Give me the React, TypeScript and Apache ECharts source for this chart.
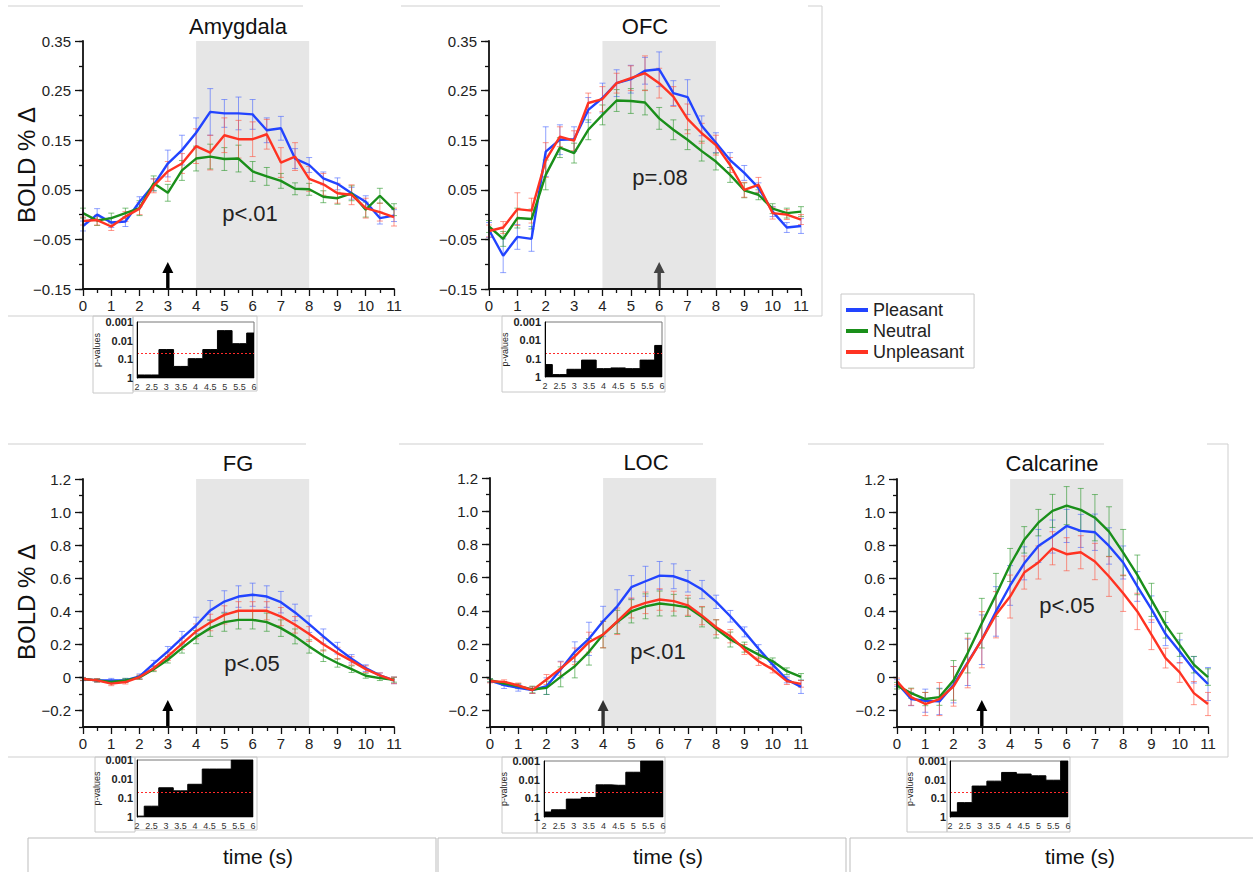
import React, { useEffect, useRef } from "react";
import * as echarts from "echarts";

// ---------- data ----------
const TIME = [0, 0.5, 1, 1.5, 2, 2.5, 3, 3.5, 4, 4.5, 5, 5.5, 6, 6.5, 7, 7.5, 8, 8.5, 9, 9.5, 10, 10.5, 11];
const P_TIME = [2, 2.5, 3, 3.5, 4, 4.5, 5, 5.5, 6];
const CONDITIONS = ["Pleasant", "Neutral", "Unpleasant"];
const STIM_WINDOW = [4, 8];
const P_THRESHOLD = 0.05;
const TITLES = ["Amygdala", "OFC", "FG", "LOC", "Calcarine"];
const P_LABELS = ["p<.01", "p=.08", "p<.05", "p<.01", "p<.05"];
const ARROW_TIMES = [3, 6, 3, 4, 3];

// Amygdala
const amyPleasant = [-0.023, 0.0, -0.016, -0.014, 0.026, 0.06, 0.103, 0.13, 0.165, 0.207, 0.204, 0.204, 0.202, 0.17, 0.174, 0.113, 0.1, 0.073, 0.062, 0.043, 0.026, -0.007, -0.002];
const amyNeutral = [0.003, -0.012, -0.007, 0.003, 0.013, 0.063, 0.044, 0.089, 0.113, 0.117, 0.112, 0.113, 0.087, 0.077, 0.068, 0.052, 0.051, 0.036, 0.033, 0.043, 0.01, 0.038, 0.01];
const amyUnpleasant = [-0.013, -0.011, -0.024, -0.004, 0.012, 0.058, 0.087, 0.103, 0.138, 0.125, 0.16, 0.152, 0.152, 0.162, 0.105, 0.117, 0.072, 0.061, 0.043, 0.04, 0.013, 0.005, -0.005];
const amyPleasantErr = [0.01, 0.012, 0.01, 0.01, 0.01, 0.012, 0.027, 0.03, 0.03, 0.047, 0.028, 0.033, 0.03, 0.025, 0.024, 0.02, 0.015, 0.013, 0.012, 0.012, 0.012, 0.012, 0.012];
const amyNeutralErr = [0.01, 0.01, 0.01, 0.01, 0.015, 0.015, 0.017, 0.02, 0.025, 0.025, 0.023, 0.027, 0.02, 0.018, 0.015, 0.012, 0.012, 0.012, 0.012, 0.015, 0.015, 0.015, 0.012];
const amyUnpleasantErr = [0.008, 0.01, 0.008, 0.01, 0.012, 0.014, 0.02, 0.02, 0.035, 0.035, 0.035, 0.038, 0.035, 0.03, 0.03, 0.028, 0.025, 0.022, 0.02, 0.02, 0.02, 0.018, 0.018];
const amyP = [0.69, 0.69, 0.03, 0.24, 0.092, 0.03, 0.0029, 0.0145, 0.0039];

// OFC
const ofcPleasant = [-0.031, -0.083, -0.045, -0.049, 0.127, 0.151, 0.152, 0.211, 0.235, 0.265, 0.273, 0.29, 0.293, 0.245, 0.237, 0.179, 0.145, 0.11, 0.084, 0.054, 0.006, -0.026, -0.023];
const ofcNeutral = [-0.024, -0.049, -0.007, -0.009, 0.08, 0.135, 0.124, 0.171, 0.201, 0.23, 0.229, 0.226, 0.194, 0.171, 0.151, 0.128, 0.107, 0.08, 0.049, 0.04, 0.012, 0.003, 0.006];
const ofcUnpleasant = [-0.033, -0.026, 0.011, 0.008, 0.11, 0.157, 0.149, 0.225, 0.233, 0.265, 0.275, 0.285, 0.265, 0.238, 0.193, 0.164, 0.14, 0.1, 0.05, 0.06, 0.003, 0.0, -0.01];
const ofcPleasantErr = [0.015, 0.034, 0.025, 0.025, 0.05, 0.03, 0.025, 0.025, 0.03, 0.027, 0.028, 0.027, 0.035, 0.025, 0.035, 0.02, 0.02, 0.015, 0.015, 0.01, 0.01, 0.01, 0.015];
const ofcNeutralErr = [0.012, 0.015, 0.02, 0.02, 0.03, 0.02, 0.02, 0.02, 0.02, 0.022, 0.025, 0.025, 0.022, 0.02, 0.02, 0.02, 0.017, 0.015, 0.015, 0.01, 0.01, 0.01, 0.01];
const ofcUnpleasantErr = [0.012, 0.012, 0.033, 0.025, 0.035, 0.02, 0.02, 0.02, 0.025, 0.02, 0.025, 0.035, 0.03, 0.02, 0.03, 0.02, 0.02, 0.015, 0.015, 0.015, 0.012, 0.01, 0.01];
const ofcP = [0.21, 0.74, 0.38, 0.12, 0.35, 0.32, 0.35, 0.12, 0.019];

// FG
const fgPleasant = [-0.01, -0.018, -0.018, -0.018, 0.006, 0.083, 0.157, 0.238, 0.314, 0.405, 0.459, 0.489, 0.5, 0.489, 0.455, 0.393, 0.322, 0.248, 0.177, 0.113, 0.056, 0.012, -0.018];
const fgNeutral = [-0.01, -0.018, -0.028, -0.018, 0.0, 0.05, 0.107, 0.177, 0.244, 0.298, 0.334, 0.348, 0.348, 0.334, 0.298, 0.248, 0.187, 0.131, 0.087, 0.05, 0.01, -0.004, -0.014];
const fgUnpleasant = [-0.01, -0.018, -0.038, -0.028, 0.002, 0.056, 0.127, 0.203, 0.278, 0.332, 0.378, 0.403, 0.403, 0.403, 0.368, 0.318, 0.262, 0.2, 0.147, 0.1, 0.05, 0.012, -0.018];
const fgPleasantErr = [0.01, 0.01, 0.012, 0.012, 0.015, 0.02, 0.03, 0.04, 0.05, 0.06, 0.065, 0.065, 0.07, 0.065, 0.065, 0.05, 0.05, 0.045, 0.035, 0.025, 0.02, 0.015, 0.02];
const fgNeutralErr = [0.008, 0.01, 0.01, 0.012, 0.012, 0.015, 0.02, 0.03, 0.04, 0.05, 0.055, 0.055, 0.055, 0.055, 0.05, 0.045, 0.04, 0.035, 0.025, 0.02, 0.015, 0.015, 0.015];
const fgUnpleasantErr = [0.008, 0.01, 0.012, 0.012, 0.012, 0.015, 0.025, 0.035, 0.045, 0.05, 0.055, 0.055, 0.055, 0.055, 0.055, 0.05, 0.045, 0.04, 0.035, 0.025, 0.02, 0.015, 0.02];
const fgP = [0.9, 0.27, 0.029, 0.042, 0.019, 0.003, 0.003, 0.001, 0.001];

// LOC
const locPleasant = [-0.02, -0.048, -0.064, -0.078, -0.054, 0.046, 0.153, 0.231, 0.337, 0.427, 0.542, 0.578, 0.612, 0.608, 0.578, 0.528, 0.454, 0.367, 0.273, 0.171, 0.076, -0.014, -0.058];
const locNeutral = [-0.018, -0.038, -0.054, -0.074, -0.064, 0.002, 0.066, 0.153, 0.257, 0.333, 0.397, 0.427, 0.444, 0.434, 0.421, 0.363, 0.291, 0.227, 0.181, 0.136, 0.096, 0.036, 0.002];
const locUnpleasant = [-0.024, -0.028, -0.05, -0.078, -0.014, 0.052, 0.126, 0.211, 0.257, 0.337, 0.417, 0.448, 0.468, 0.458, 0.433, 0.371, 0.301, 0.247, 0.167, 0.096, 0.046, -0.024, -0.04];
const locPleasantErr = [0.01, 0.02, 0.02, 0.02, 0.05, 0.05, 0.06, 0.1, 0.09, 0.1, 0.07, 0.09, 0.085, 0.075, 0.065, 0.055, 0.04, 0.035, 0.03, 0.025, 0.02, 0.02, 0.04];
const locNeutralErr = [0.01, 0.012, 0.015, 0.02, 0.04, 0.06, 0.07, 0.08, 0.08, 0.07, 0.07, 0.075, 0.075, 0.065, 0.055, 0.06, 0.055, 0.045, 0.03, 0.025, 0.02, 0.02, 0.02];
const locUnpleasantErr = [0.01, 0.012, 0.015, 0.02, 0.03, 0.04, 0.05, 0.06, 0.08, 0.08, 0.06, 0.065, 0.065, 0.06, 0.06, 0.055, 0.045, 0.04, 0.03, 0.025, 0.02, 0.02, 0.02];
const locP = [0.54, 0.41, 0.11, 0.09, 0.019, 0.02, 0.004, 0.001, 0.001];

// Calcarine
const calPleasant = [-0.034, -0.131, -0.141, -0.145, -0.044, 0.091, 0.228, 0.399, 0.556, 0.69, 0.795, 0.852, 0.916, 0.886, 0.878, 0.795, 0.695, 0.55, 0.413, 0.262, 0.157, 0.046, -0.04];
const calNeutral = [-0.05, -0.095, -0.131, -0.119, -0.018, 0.147, 0.328, 0.499, 0.68, 0.832, 0.936, 1.007, 1.039, 1.013, 0.966, 0.882, 0.755, 0.62, 0.469, 0.318, 0.197, 0.077, 0.002];
const calUnpleasant = [-0.024, -0.119, -0.161, -0.131, -0.054, 0.087, 0.228, 0.379, 0.489, 0.634, 0.695, 0.781, 0.745, 0.757, 0.701, 0.61, 0.509, 0.399, 0.258, 0.117, 0.03, -0.095, -0.161];
const calPleasantErr = [0.02, 0.04, 0.07, 0.08, 0.11, 0.14, 0.15, 0.15, 0.12, 0.1, 0.1, 0.1, 0.1, 0.1, 0.11, 0.11, 0.1, 0.09, 0.08, 0.07, 0.07, 0.08, 0.1];
const calNeutralErr = [0.02, 0.03, 0.04, 0.05, 0.12, 0.12, 0.15, 0.13, 0.1, 0.08, 0.08, 0.1, 0.115, 0.13, 0.14, 0.15, 0.14, 0.12, 0.1, 0.08, 0.07, 0.05, 0.05];
const calUnpleasantErr = [0.02, 0.05, 0.07, 0.1, 0.12, 0.15, 0.17, 0.14, 0.13, 0.1, 0.1, 0.1, 0.1, 0.1, 0.11, 0.12, 0.11, 0.11, 0.09, 0.06, 0.06, 0.07, 0.07];
const calP = [0.54, 0.17, 0.022, 0.012, 0.0041, 0.005, 0.0062, 0.0107, 0.001];

const SMALL_TICKS = [-0.15, -0.05, 0.05, 0.15, 0.25, 0.35];
const LARGE_TICKS = [-0.2, 0, 0.2, 0.4, 0.6, 0.8, 1.0, 1.2];

const PANEL_DATA = [
  { means: [amyPleasant, amyNeutral, amyUnpleasant], errs: [amyPleasantErr, amyNeutralErr, amyUnpleasantErr], pvals: amyP, scale: "small" },
  { means: [ofcPleasant, ofcNeutral, ofcUnpleasant], errs: [ofcPleasantErr, ofcNeutralErr, ofcUnpleasantErr], pvals: ofcP, scale: "small" },
  { means: [fgPleasant, fgNeutral, fgUnpleasant], errs: [fgPleasantErr, fgNeutralErr, fgUnpleasantErr], pvals: fgP, scale: "large" },
  { means: [locPleasant, locNeutral, locUnpleasant], errs: [locPleasantErr, locNeutralErr, locUnpleasantErr], pvals: locP, scale: "large" },
  { means: [calPleasant, calNeutral, calUnpleasant], errs: [calPleasantErr, calNeutralErr, calUnpleasantErr], pvals: calP, scale: "large" },
];

// ---------- styles / layout ----------
const FONT = "'Liberation Sans', Arial, Helvetica, sans-serif";
const LINE_COLORS = ["#2244ff", "#1a8f1a", "#ff3322"];
const ERR_COLORS = ["rgba(70,100,255,0.6)", "rgba(40,150,40,0.6)", "rgba(255,80,60,0.6)"];

const Y_SCALES: any = {
  small: { min: -0.15, max: 0.35, minor: 0.05, major: SMALL_TICKS, digits: 2 },
  large: { min: -0.3, max: 1.2, minor: 0.1, major: LARGE_TICKS, digits: 1 },
};

const LAYOUT = [
  { grid: { left: 83, top: 41, width: 311, height: 248 }, inset: { left: 137, top: 322, width: 117, height: 56 }, title: [238, 26], p: [250, 213], arrowColor: "#000" },
  { grid: { left: 489, top: 41, width: 312, height: 248 }, inset: { left: 545, top: 322, width: 117, height: 55 }, title: [645, 26], p: [660, 177], arrowColor: "#444" },
  { grid: { left: 83, top: 479, width: 311, height: 248 }, inset: { left: 137, top: 760, width: 116, height: 57 }, title: [238, 463], p: [252, 663], arrowColor: "#000" },
  { grid: { left: 490, top: 478, width: 311, height: 249 }, inset: { left: 544, top: 761, width: 119, height: 56 }, title: [646, 462], p: [658, 651], arrowColor: "#333" },
  { grid: { left: 897, top: 479, width: 311, height: 248 }, inset: { left: 950, top: 761, width: 118, height: 56 }, title: [1052, 463], p: [1067, 605], arrowColor: "#000" },
];

const FRAME_LINES = [
  [8, 6, 303, 6], [401, 6, 720, 6], [808, 6, 822, 6], [822, 6, 822, 316], [8, 316, 822, 316],
  [8, 444, 306, 444], [399, 444, 703, 444], [808, 444, 1104, 444], [1207, 444, 1228, 444], [1228, 444, 1228, 757], [8, 757, 1228, 757],
];
const INSET_BOXES = [
  [93, 316, 40, 77], [133, 316, 124, 75],
  [502, 316, 163, 76],
  [95, 757, 40, 75], [135, 757, 122, 73],
  [502, 757, 35, 76], [537, 757, 128, 76],
  [907, 757, 40, 75], [947, 757, 123, 75],
];
const TIME_BOXES = [[28, 838, 408, 40], [438, 838, 408, 40], [850, 838, 410, 40]];
const TIME_LABEL_X = [258, 668, 1080];

function fmtTick(v: number, digits: number) {
  const s = Math.abs(v) < 1e-9 ? "0" : v.toFixed(digits);
  return s.replace("-", "\u2212");
}

function textEl(text: string, x: number, y: number, size: number, fill: string, rotation = 0) {
  return {
    type: "text",
    x,
    y,
    rotation,
    z: 10,
    style: {
      text,
      fill,
      fontSize: size,
      fontFamily: FONT,
      align: "center",
      verticalAlign: "middle",
      textAlign: "center",
      textVerticalAlign: "middle",
    },
  };
}

function buildOption() {
  const grid: any[] = [];
  const xAxis: any[] = [];
  const yAxis: any[] = [];
  const series: any[] = [];
  const graphic: any[] = [];

  FRAME_LINES.forEach(([x1, y1, x2, y2]) =>
    graphic.push({ type: "line", z: 0, shape: { x1, y1, x2, y2 }, style: { stroke: "#cfcfcf", lineWidth: 1 } })
  );
  INSET_BOXES.forEach(([x, y, w, h]) =>
    graphic.push({ type: "rect", z: 0, shape: { x, y, width: w, height: h }, style: { fill: "none", stroke: "#c8c8c8", lineWidth: 1 } })
  );
  TIME_BOXES.forEach(([x, y, w, h], k) => {
    graphic.push({ type: "rect", z: 0, shape: { x, y, width: w, height: h }, style: { fill: "none", stroke: "#bdbdbd", lineWidth: 1 } });
    graphic.push(textEl("time (s)", TIME_LABEL_X[k], 856, 21, "#111"));
  });
  graphic.push(textEl("BOLD % \u0394", 26, 165, 24, "#111", Math.PI / 2));
  graphic.push(textEl("BOLD % \u0394", 26, 602, 24, "#111", Math.PI / 2));

  PANEL_DATA.forEach((panel, i) => {
    const L = LAYOUT[i];
    const S = Y_SCALES[panel.scale];

    graphic.push(textEl(TITLES[i], L.title[0], L.title[1], 22, "#111"));
    graphic.push(textEl(P_LABELS[i], L.p[0], L.p[1], 22, "#222"));

    // main grid
    const gi = grid.length;
    grid.push({ ...L.grid, show: false });
    const xi = xAxis.length;
    xAxis.push({
      gridIndex: gi,
      type: "value",
      position: "bottom",
      min: 0,
      max: 11,
      interval: 1,
      z: 5,
      axisLine: { show: true, onZero: false, lineStyle: { color: "#111", width: 1.8 } },
      axisTick: { show: true, length: 7, lineStyle: { color: "#111", width: 1.3 } },
      minorTick: { show: true, splitNumber: 2, length: 4, lineStyle: { color: "#111", width: 1.3 } },
      axisLabel: { fontSize: 15, color: "#222", margin: 9, fontFamily: FONT },
      splitLine: { show: false },
      minorSplitLine: { show: false },
    });
    const yi = yAxis.length;
    yAxis.push({
      gridIndex: gi,
      type: "value",
      position: "left",
      offset: 0,
      min: S.min,
      max: S.max,
      interval: S.minor,
      z: 5,
      axisLine: { show: true, onZero: false, lineStyle: { color: "#111", width: 1.8 } },
      axisTick: { show: true, length: 4, lineStyle: { color: "#111", width: 1.3 } },
      axisLabel: { show: false },
      splitLine: { show: false },
    });
    yAxis.push({
      gridIndex: gi,
      type: "value",
      position: "left",
      offset: 0,
      min: S.min,
      max: S.max,
      interval: S.minor,
      z: 5,
      axisLine: { show: false, onZero: false },
      axisTick: { show: true, length: 8, customValues: S.major, lineStyle: { color: "#111", width: 1.3 } },
      axisLabel: {
        show: true,
        customValues: S.major,
        fontSize: 15,
        color: "#222",
        margin: 12,
        fontFamily: FONT,
        formatter: (v: number) => fmtTick(v, S.digits),
      },
      splitLine: { show: false },
    });

    // stimulus window band
    series.push({
      type: "custom",
      name: "window",
      xAxisIndex: xi,
      yAxisIndex: yi,
      z: 1,
      silent: true,
      data: [STIM_WINDOW],
      encode: { x: [0, 1] },
      renderItem: (params: any, api: any) => {
        const cs = params.coordSys;
        const a = api.coord([api.value(0), S.min]);
        const b = api.coord([api.value(1), S.min]);
        return { type: "rect", shape: { x: a[0], y: cs.y, width: b[0] - a[0], height: cs.height }, style: { fill: "#e6e6e6" } };
      },
    });

    // error bars
    CONDITIONS.forEach((cond, c) => {
      const means = panel.means[c];
      const errs = panel.errs[c];
      series.push({
        type: "custom",
        name: cond + " SE",
        xAxisIndex: xi,
        yAxisIndex: yi,
        z: 2,
        silent: true,
        data: TIME.map((t, k) => [t, means[k] - errs[k], means[k] + errs[k]]),
        encode: { x: 0, y: [1, 2] },
        renderItem: (params: any, api: any) => {
          const x = api.value(0);
          const lo = api.coord([x, api.value(1)]);
          const hi = api.coord([x, api.value(2)]);
          const hw = 3;
          const style = { stroke: ERR_COLORS[c], lineWidth: 1 };
          return {
            type: "group",
            children: [
              { type: "line", shape: { x1: lo[0], y1: lo[1], x2: hi[0], y2: hi[1] }, style },
              { type: "line", shape: { x1: lo[0] - hw, y1: lo[1], x2: lo[0] + hw, y2: lo[1] }, style },
              { type: "line", shape: { x1: hi[0] - hw, y1: hi[1], x2: hi[0] + hw, y2: hi[1] }, style },
            ],
          };
        },
      });
    });

    // mean lines
    CONDITIONS.forEach((cond, c) => {
      const means = panel.means[c];
      series.push({
        type: "line",
        name: cond,
        xAxisIndex: xi,
        yAxisIndex: yi,
        z: 3,
        silent: true,
        symbol: "none",
        data: TIME.map((t, k) => [t, means[k]]),
        lineStyle: { color: LINE_COLORS[c], width: 2.4 },
        itemStyle: { color: LINE_COLORS[c] },
      });
    });

    // stimulus onset arrow
    series.push({
      type: "custom",
      name: "arrow",
      xAxisIndex: xi,
      yAxisIndex: yi,
      z: 4,
      silent: true,
      data: [[ARROW_TIMES[i], S.min]],
      renderItem: (params: any, api: any) => {
        const p = api.coord([api.value(0), api.value(1)]);
        const col = L.arrowColor;
        return {
          type: "group",
          children: [
            { type: "rect", shape: { x: p[0] - 1.7, y: p[1] - 17, width: 3.4, height: 17 }, style: { fill: col } },
            { type: "polygon", shape: { points: [[p[0], p[1] - 27], [p[0] - 5.5, p[1] - 16], [p[0] + 5.5, p[1] - 16]] }, style: { fill: col } },
          ],
        };
      },
    });

    // inset p-value plot
    const ig = grid.length;
    grid.push({ ...L.inset, show: true, borderColor: "#777", borderWidth: 1, backgroundColor: "#fff" });
    const ix = xAxis.length;
    xAxis.push({
      gridIndex: ig,
      type: "value",
      position: "bottom",
      min: 2,
      max: 6,
      interval: 0.5,
      z: 5,
      axisLine: { show: false, onZero: false },
      axisTick: { show: false },
      axisLabel: { fontSize: 9, color: "#333", margin: 4, fontFamily: FONT },
      splitLine: { show: false },
    });
    const iy = yAxis.length;
    yAxis.push({
      gridIndex: ig,
      type: "log",
      position: "left",
      logBase: 10,
      min: 0.001,
      max: 1,
      inverse: true,
      z: 5,
      axisLine: { show: true, onZero: false, lineStyle: { color: "#000", width: 1 } },
      axisTick: { show: false },
      axisLabel: { fontSize: 11, color: "#222", margin: 4, fontFamily: FONT, fontWeight: "bold" },
      splitLine: { show: false },
      name: "p-values",
      nameLocation: "middle",
      nameGap: 34,
      nameTextStyle: { fontSize: 9, color: "#222", fontFamily: FONT },
    });
    series.push({
      type: "line",
      name: "p",
      xAxisIndex: ix,
      yAxisIndex: iy,
      z: 3,
      silent: true,
      step: "middle",
      symbol: "none",
      data: P_TIME.map((t, k) => [t, panel.pvals[k]]),
      lineStyle: { color: "#000", width: 1 },
      areaStyle: { color: "#000", opacity: 1, origin: "end" },
      markLine: {
        silent: true,
        symbol: "none",
        label: { show: false },
        lineStyle: { color: "#ff2a2a", type: [2, 2], width: 1, opacity: 1 },
        data: [{ yAxis: P_THRESHOLD }],
      },
    });
  });

  return {
    animation: false,
    backgroundColor: "#fff",
    textStyle: { fontFamily: FONT },
    legend: {
      data: CONDITIONS,
      orient: "vertical",
      left: 841,
      top: 294,
      padding: [7, 10, 7, 5],
      itemGap: 3,
      itemWidth: 22,
      itemHeight: 4,
      icon: "rect",
      selectedMode: false,
      borderColor: "#c8c8c8",
      borderWidth: 1,
      backgroundColor: "#fff",
      textStyle: { fontSize: 18, color: "#222", fontFamily: FONT },
    },
    grid,
    xAxis,
    yAxis,
    series,
    graphic: { elements: graphic },
  };
}

export default function App() {
  const ref = useRef<HTMLDivElement>(null);
  useEffect(() => {
    const chart = echarts.init(ref.current!, null, { renderer: "svg" });
    chart.setOption(buildOption() as any);
    return () => chart.dispose();
  }, []);
  return (
    <div
      ref={ref}
      style={{ position: "fixed", left: 0, top: 0, width: 1253, height: 872, background: "#fff" }}
    />
  );
}
